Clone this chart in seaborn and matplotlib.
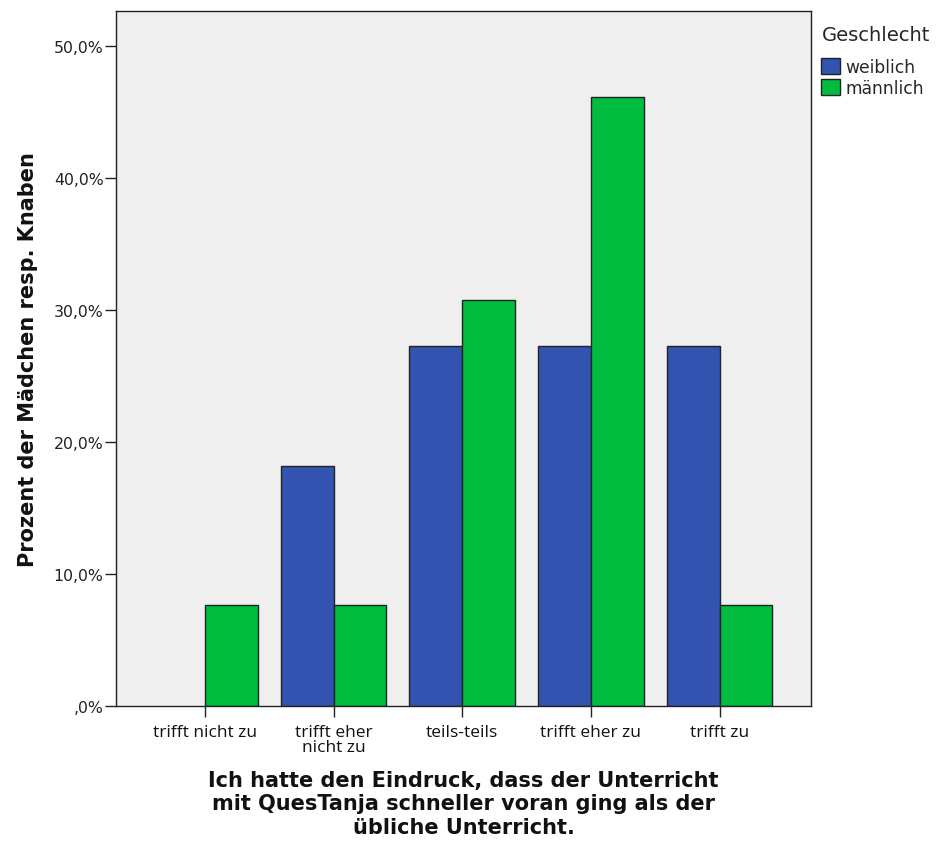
import matplotlib
matplotlib.use("Agg")
import matplotlib.pyplot as plt
import seaborn as sns
import pandas as pd
from matplotlib.patches import Patch

categories = ["trifft nicht zu", "trifft eher\nnicht zu", "teils-teils", "trifft eher zu", "trifft zu"]
weiblich = [0.0, 18.18, 27.27, 27.27, 27.27]
maennlich = [7.69, 7.69, 30.77, 46.15, 7.69]
groups = ["weiblich", "männlich"]
yticks = [0, 10, 20, 30, 40, 50]
ytick_labels = [",0%", "10,0%", "20,0%", "30,0%", "40,0%", "50,0%"]

df = pd.DataFrame({
    "Kategorie": categories * 2,
    "Prozent": weiblich + maennlich,
    "Geschlecht": [groups[0]] * len(categories) + [groups[1]] * len(categories),
})

sns.set_style("white")
plt.rcParams["font.family"] = ["DejaVu Sans"]

colors = {"weiblich": "#3353b0", "männlich": "#00bd3f"}

fig = plt.figure(figsize=(9.45, 8.54), dpi=100)
ax = fig.add_axes([0.1228, 0.1721, 0.7354, 0.8138])
sns.barplot(data=df, x="Kategorie", y="Prozent", hue="Geschlecht",
            palette=colors, width=0.82, edgecolor="#222222", linewidth=1.0,
            saturation=1, ax=ax, legend=False, errorbar=None)
for p in ax.patches:
    if p.get_height() == 0:
        p.set_linewidth(0)

ax.set_facecolor("#efefef")
ax.set_xlim(-0.69, 4.71)
ax.set_ylim(0, 52.65)
ax.set_yticks(yticks)
ax.set_yticklabels(ytick_labels, fontsize=11.3, color="#222222")
ax.set_xticks(range(len(categories)))
ax.set_xticklabels(categories, fontsize=12.5, family=["Open Sans", "DejaVu Sans"], color="#111111", linespacing=0.9)
ax.tick_params(axis="both", which="both", direction="out", length=8, width=1.0,
               color="#222222", bottom=True, left=True)
ax.tick_params(axis="x", pad=5)
ax.tick_params(axis="y", pad=1)
for s in ax.spines.values():
    s.set_visible(True)
    s.set_color("#222222")
    s.set_linewidth(1.0)

ax.set_ylabel("Prozent der Mädchen resp. Knaben", fontsize=15, fontweight="bold", color="#111111", labelpad=11)
ax.set_xlabel("Ich hatte den Eindruck, dass der Unterricht\nmit QuesTanja schneller voran ging als der\nübliche Unterricht.",
              fontsize=15, fontweight="bold", color="#111111", labelpad=11, linespacing=1.2)

handles = [Patch(facecolor=colors[g], edgecolor="#222222", label=g) for g in groups]
leg = fig.legend(handles=handles, title="Geschlecht", loc="upper left",
                 bbox_to_anchor=(0.862, 0.978), frameon=False, fontsize=12.3,
                 title_fontsize=14, handlelength=1.1, handleheight=1.1,
                 handletextpad=0.3, labelspacing=0.2, borderaxespad=0)
leg._legend_box.align = "left"
leg._legend_box.sep = 10

fig.savefig("out.png", dpi=100)
